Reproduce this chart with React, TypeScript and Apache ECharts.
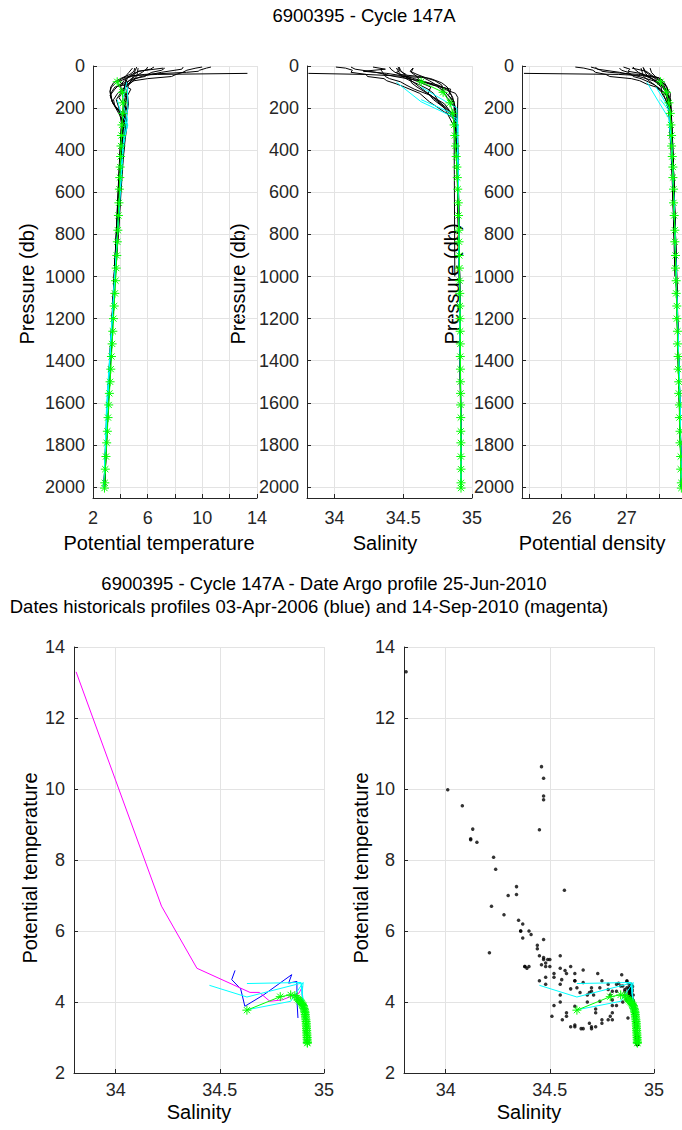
import React, { useEffect, useRef } from "react";
import * as echarts from "echarts";

// ---------- Argo float profile (green stars) ----------
const argoP = [75,125,175,225,280,330,380,430,480,530,585,650,710,780,835,900,960,1020,1080,1140,1200,1260,1320,1380,1440,1500,1555,1610,1670,1735,1790,1855,1915,1980,2005];
const argoT = [3.77,4.15,4.2,4.18,4.12,4.08,4.05,4.02,3.99,3.96,3.93,3.9,3.86,3.82,3.78,3.74,3.7,3.65,3.6,3.55,3.5,3.45,3.4,3.35,3.3,3.25,3.2,3.15,3.1,3.05,3.0,2.95,2.9,2.86,2.84];
const argoS = [34.63,34.79,34.84,34.86,34.87,34.875,34.88,34.885,34.89,34.893,34.896,34.9,34.902,34.904,34.906,34.908,34.909,34.91,34.911,34.912,34.913,34.914,34.915,34.915,34.916,34.916,34.917,34.917,34.918,34.918,34.919,34.919,34.92,34.92,34.92];
const argoD = [27.52,27.61,27.65,27.67,27.68,27.69,27.69,27.70,27.71,27.71,27.72,27.72,27.73,27.74,27.74,27.75,27.75,27.76,27.76,27.77,27.77,27.78,27.78,27.79,27.79,27.80,27.80,27.81,27.81,27.82,27.82,27.83,27.83,27.84,27.84];

// ---------- Historical profiles (black); h1 = 14-Sep-2010 (magenta), h2 = 03-Apr-2006 (blue) ----------
const h1P = [35,40,45,55,70,90,110,130,150,200,300,500,700,1000,1300,1600,2000];
const h1T = [13.3,6.7,4.95,4.27,4.27,4.02,4.06,4.25,4.44,4.3,4.1,3.95,3.8,3.55,3.3,3.05,2.85];
const h1S = [33.81,34.22,34.39,34.645,34.69,34.74,34.80,34.88,34.897,34.895,34.895,34.90,34.905,34.91,34.915,34.918,34.918];
const h1D = [25.42,26.87,27.21,27.49,27.52,27.59,27.63,27.67,27.67,27.68,27.70,27.72,27.74,27.77,27.79,27.82,27.84];

const h2P = [10,30,50,70,90,110,140,170,300,1000];
const h2T = [4.89,4.63,4.37,3.88,4.2,4.77,4.53,4.58,4.06,3.55];
const h2S = [34.573,34.557,34.60,34.62,34.71,34.845,34.83,34.87,34.87,34.875];
const h2D = [27.36,27.38,27.44,27.51,27.55,27.59,27.61,27.63,27.69,27.74];

const h3P = [5,10,20,25,30,40,50,60,80,100,150,200,400,700,1000,1400,1800];
const h3T = [10.63,10.3,9.8,9.7,8.85,5.76,4.6,4.4,4.35,4.3,4.35,4.2,4.0,3.8,3.55,3.25,2.95];
const h3S = [34.46,34.47,34.47,34.47,34.45,34.47,34.62,34.70,34.78,34.82,34.86,34.88,34.895,34.905,34.91,34.915,34.918];
const h3D = [26.45,26.51,26.60,26.62,26.74,27.18,27.43,27.52,27.58,27.62,27.65,27.68,27.71,27.74,27.77,27.80,27.83];

const h4P = [5,10,20,30,40,50,60,70,85,100,130,170,250,500,800,1200,1600,2000];
const h4T = [9.98,9.53,8.87,8.57,8.08,7.74,6.0,5.0,4.6,3.6,3.3,3.4,4.1,3.9,3.7,3.4,3.1,2.85];
const h4S = [34.01,34.08,34.13,34.12,34.23,34.24,34.36,34.38,34.45,34.51,34.62,34.69,34.87,34.895,34.905,34.912,34.917,34.92];
const h4D = [26.21,26.34,26.48,26.52,26.68,26.74,27.07,27.20,27.30,27.45,27.56,27.61,27.68,27.72,27.75,27.78,27.81,27.84];

const h5P = [10,20,30,40,50,60,75,90,110,140,180,250,400,700,1000,1500,2000];
const h5T = [7.25,7.03,6.3,6.0,5.8,5.0,4.5,3.9,3.6,3.25,3.5,4.3,4.05,3.85,3.6,3.2,2.85];
const h5S = [34.34,34.34,34.35,34.36,34.37,34.40,34.48,34.52,34.58,34.70,34.80,34.88,34.89,34.90,34.908,34.915,34.92];
const h5D = [26.89,26.92,27.02,27.07,27.10,27.22,27.33,27.43,27.50,27.63,27.68,27.67,27.70,27.73,27.76,27.80,27.84];

const h6P = [5,15,25,35,45,60,80,100,130,160,200,300,500,800,1100,1500,2000];
const h6T = [6.46,6.2,5.39,5.0,4.7,4.5,4.4,4.3,4.0,3.7,3.9,4.15,3.95,3.75,3.5,3.15,2.8];
const h6S = [34.28,34.37,34.21,34.38,34.48,34.55,34.63,34.70,34.68,34.72,34.80,34.88,34.895,34.905,34.91,34.916,34.92];
const h6D = [26.95,27.05,27.02,27.21,27.31,27.39,27.46,27.53,27.54,27.60,27.65,27.68,27.72,27.745,27.77,27.81,27.84];

const h7P = [10,25,40,55,70,90,120,150,200,300,500,800,1200,1600,2000];
const h7T = [7.15,5.3,5.0,4.9,4.8,4.5,4.2,3.9,4.4,4.2,4.0,3.75,3.4,3.05,2.8];
const h7S = [34.57,34.55,34.60,34.66,34.73,34.78,34.79,34.82,34.88,34.89,34.90,34.905,34.912,34.917,34.92];
const h7D = [27.08,27.30,27.37,27.43,27.50,27.57,27.61,27.66,27.66,27.69,27.72,27.745,27.78,27.82,27.84];

const h8P = [5,20,35,50,65,80,100,120,150,180,220,300,500,900,1300,1700,2000];
const h8T = [5.2,5.1,5.0,4.8,4.2,3.7,3.35,3.25,3.3,3.5,4.0,4.2,4.0,3.7,3.35,3.0,2.8];
const h8S = [34.47,34.48,34.50,34.52,34.55,34.58,34.62,34.66,34.72,34.78,34.85,34.885,34.895,34.905,34.912,34.918,34.92];
const h8D = [27.25,27.27,27.29,27.33,27.42,27.49,27.56,27.60,27.64,27.67,27.68,27.68,27.71,27.75,27.79,27.82,27.84];

const h9P = [10,30,50,70,90,110,130,160,190,230,280,350,450,600,800,1000,1300,1700,2000];
const h9T = [5.3,5.25,5.2,4.95,4.6,4.2,3.8,3.5,3.6,4.3,4.5,4.35,4.2,4.05,3.85,3.6,3.3,3.0,2.82];
const h9S = [34.45,34.47,34.49,34.55,34.62,34.68,34.72,34.75,34.79,34.86,34.89,34.895,34.90,34.90,34.905,34.91,34.914,34.918,34.92];
const h9D = [27.22,27.24,27.26,27.34,27.43,27.52,27.59,27.64,27.67,27.65,27.66,27.68,27.70,27.71,27.73,27.76,27.79,27.82,27.84];

const h10P = [5,15,30,45,60,75,95,120,150,180,220,270,330,400,500,650,800,1000,1250,1500,1800,2000];
const h10T = [6.0,5.9,5.6,5.2,4.8,4.55,4.4,4.3,4.45,4.6,4.5,4.4,4.3,4.2,4.1,3.95,3.8,3.6,3.4,3.2,2.95,2.83];
const h10S = [34.40,34.41,34.44,34.50,34.58,34.66,34.74,34.80,34.84,34.87,34.88,34.885,34.89,34.89,34.895,34.90,34.905,34.91,34.913,34.916,34.918,34.92];
const h10D = [27.10,27.12,27.18,27.27,27.38,27.47,27.55,27.61,27.62,27.63,27.65,27.66,27.67,27.69,27.70,27.72,27.74,27.76,27.78,27.80,27.83,27.84];

const h11P = [10,25,40,60,80,100,120,140,170,200,240,300,400,550,750,1000,1300,1650,2000];
const h11T = [5.05,5.0,4.7,4.0,3.5,3.3,3.25,3.3,3.4,3.7,4.2,4.4,4.25,4.05,3.85,3.6,3.3,3.0,2.8];
const h11S = [34.46,34.48,34.52,34.55,34.56,34.60,34.65,34.70,34.75,34.80,34.86,34.885,34.89,34.895,34.90,34.91,34.914,34.918,34.92];
const h11D = [27.26,27.28,27.34,27.44,27.49,27.55,27.59,27.62,27.65,27.67,27.66,27.66,27.68,27.70,27.73,27.76,27.79,27.82,27.84];

const h12P = [5,15,30,50,70,90,110,140,180,230,300,380,470,600,750,900,1100,1400,1700,2000];
const h12T = [8.6,8.5,7.0,5.5,4.8,4.6,4.5,4.45,4.4,4.35,4.3,4.2,4.1,4.0,3.9,3.75,3.55,3.3,3.05,2.85];
const h12S = [34.12,34.15,34.30,34.44,34.62,34.75,34.82,34.85,34.87,34.88,34.885,34.89,34.89,34.895,34.90,34.905,34.91,34.915,34.918,34.92];
const h12D = [26.52,26.55,26.89,27.19,27.41,27.53,27.60,27.63,27.65,27.66,27.67,27.69,27.70,27.71,27.72,27.745,27.77,27.79,27.82,27.84];

// ---------- Neighbouring float profiles (cyan) ----------
const c1P = [77,170,250,400,600,800,1000,1300,1600,2000];
const c1T = [4.47,4.14,4.53,4.2,4.0,3.8,3.6,3.3,3.0,2.8];
const c1S = [34.45,34.63,34.89,34.895,34.90,34.905,34.91,34.915,34.918,34.92];
const c1D = [27.31,27.49,27.65,27.69,27.72,27.74,27.76,27.79,27.82,27.84];

const c2P = [100,200,300,500,800,1100,1500,2000];
const c2T = [4.52,4.55,4.3,4.05,3.78,3.5,3.15,2.82];
const c2S = [34.63,34.89,34.895,34.90,34.905,34.91,34.916,34.92];
const c2D = [27.45,27.65,27.68,27.71,27.745,27.77,27.81,27.84];

const c3P = [160,220,280,350,600,900,1200,1600,2000];
const c3T = [3.78,4.02,4.55,4.25,3.98,3.7,3.4,3.05,2.8];
const c3S = [34.63,34.84,34.90,34.895,34.90,34.905,34.912,34.917,34.92];
const c3D = [27.52,27.67,27.66,27.69,27.72,27.75,27.78,27.82,27.84];

// ---------- Axis ticks ----------
const pressureTicks = [0,200,400,600,800,1000,1200,1400,1600,1800,2000];
const salTicks = [34, 34.5, 35];
const densTicks = [25.5, 26, 26.5, 27, 27.5];
const densLabels = [26, 27];

const mainTitle = "6900395 - Cycle 147A";
const subTitle1 = "6900395 - Cycle 147A - Date Argo profile 25-Jun-2010";
const subTitle2 = "Dates historicals profiles 03-Apr-2006 (blue) and 14-Sep-2010 (magenta)";

const FONT = "'Liberation Sans', Arial, Helvetica, sans-serif";
const AX = "#262626";
const GRIDC = "#e3e3e3";
const STAR = "path://M5,0L5,10M0,5L10,5M1.6,1.6L8.4,8.4M1.6,8.4L8.4,1.6";

const blackProfiles = [
  { p: h1P, t: h1T, s: h1S, d: h1D },
  { p: h2P, t: h2T, s: h2S, d: h2D },
  { p: h3P, t: h3T, s: h3S, d: h3D },
  { p: h4P, t: h4T, s: h4S, d: h4D },
  { p: h5P, t: h5T, s: h5S, d: h5D },
  { p: h6P, t: h6T, s: h6S, d: h6D },
  { p: h7P, t: h7T, s: h7S, d: h7D },
  { p: h8P, t: h8T, s: h8S, d: h8D },
  { p: h9P, t: h9T, s: h9S, d: h9D },
  { p: h10P, t: h10T, s: h10S, d: h10D },
  { p: h11P, t: h11T, s: h11S, d: h11D },
  { p: h12P, t: h12T, s: h12S, d: h12D },
];
const cyanProfiles = [
  { p: c1P, t: c1T, s: c1S, d: c1D },
  { p: c2P, t: c2T, s: c2S, d: c2D },
  { p: c3P, t: c3T, s: c3S, d: c3D },
];

function pairs(xs: number[], ys: number[]) {
  return xs.map((x, i) => [x, ys[i]]);
}

function lineS(i: number, data: number[][], color: string, z: number, width = 1) {
  return {
    type: "line", xAxisIndex: i, yAxisIndex: i, data, symbol: "none", showSymbol: false,
    lineStyle: { color, width }, z, silent: true, clip: true, animation: false,
  };
}
function starS(i: number, data: number[][]) {
  return {
    type: "line", xAxisIndex: i, yAxisIndex: i, data, symbol: STAR, symbolSize: 9, showSymbol: true,
    itemStyle: { color: "#00ff00", borderColor: "#00ff00", borderWidth: 1 },
    lineStyle: { color: "#00ff00", width: 1 }, z: 5, silent: true, clip: true, animation: false,
  };
}

const plain = (v: number) => String(v);

function lab(margin: number, extra: any = {}) {
  return { color: AX, fontSize: 18, fontFamily: FONT, margin, hideOverlap: false, formatter: plain, ...extra };
}
function tick(extra: any = {}) {
  return { show: true, inside: true, length: 4, lineStyle: { color: AX, width: 1 }, ...extra };
}

function axisBase(gridIndex: number, extra: any) {
  return {
    type: "value", gridIndex,
    axisLine: { show: true, onZero: false, lineStyle: { color: AX, width: 1 } },
    axisTick: tick(),
    axisLabel: lab(9),
    splitLine: { show: true, lineStyle: { color: GRIDC, width: 1 } },
    ...extra,
  };
}

function txt(text: string, x: number, y: number, size: number, rot = 0) {
  return {
    type: "text", x, y, rotation: rot, silent: true,
    style: { text, x: 0, y: 0, fill: "#000", fontSize: size, fontFamily: FONT, textAlign: "center", textVerticalAlign: "middle" },
  };
}

export default function App() {
  const ref = useRef<HTMLDivElement>(null);
  useEffect(() => {
    if (!ref.current) return;
    const chart = echarts.init(ref.current, undefined, { renderer: "svg" });

    const topY = (i: number) => axisBase(i, {
      position: "left", inverse: true, min: 0, max: 2052,
      axisTick: tick({ customValues: pressureTicks }),
      axisLabel: lab(8, { customValues: pressureTicks }),
    });

    const xAxis = [
      axisBase(0, {
        position: "bottom", min: 2, max: 14, interval: 2,
        axisLabel: lab(11, { formatter: (v: number) => (Math.abs((v - 2) % 4) < 1e-6 ? String(v) : "") }),
      }),
      axisBase(1, {
        position: "bottom", min: 33.8, max: 35,
        axisTick: tick({ customValues: salTicks }),
        axisLabel: lab(11, { customValues: salTicks }),
      }),
      axisBase(2, {
        position: "bottom", min: 25.39, max: 27.85,
        axisTick: tick({ customValues: densTicks }),
        axisLabel: lab(11, { customValues: densLabels }),
      }),
      axisBase(3, {
        position: "bottom", min: 33.8, max: 35,
        axisTick: tick({ customValues: salTicks }),
        axisLabel: lab(8, { customValues: salTicks }),
      }),
      axisBase(4, {
        position: "bottom", min: 33.8, max: 35,
        axisTick: tick({ customValues: salTicks }),
        axisLabel: lab(8, { customValues: salTicks }),
      }),
    ];
    const yAxis = [
      topY(0), topY(1), topY(2),
      axisBase(3, { position: "left", min: 2, max: 14, interval: 2, axisLabel: lab(9) }),
      axisBase(4, { position: "left", min: 2, max: 14, interval: 2, axisLabel: lab(9) }),
    ];

    const series: any[] = [];
    blackProfiles.forEach((pr) => {
      series.push(lineS(0, pairs(pr.t, pr.p), "#000000", 2));
      series.push(lineS(1, pairs(pr.s, pr.p), "#000000", 2));
      series.push(lineS(2, pairs(pr.d, pr.p), "#000000", 2));
    });
    cyanProfiles.forEach((pr) => {
      series.push(lineS(0, pairs(pr.t, pr.p), "#00ffff", 3));
      series.push(lineS(1, pairs(pr.s, pr.p), "#00ffff", 3));
      series.push(lineS(2, pairs(pr.d, pr.p), "#00ffff", 3));
    });
    series.push(starS(0, pairs(argoT, argoP)));
    series.push(starS(1, pairs(argoS, argoP)));
    series.push(starS(2, pairs(argoD, argoP)));

    // bottom-left theta-S
    series.push(lineS(3, pairs(h2S, h2T), "#0000ff", 2));
    series.push(lineS(3, pairs(h1S, h1T), "#ff00ff", 2));
    cyanProfiles.forEach((pr) => series.push(lineS(3, pairs(pr.s, pr.t), "#00ffff", 3)));
    series.push(starS(3, pairs(argoS, argoT)));

    // bottom-right theta-S
    const dots: number[][] = [];
    blackProfiles.forEach((pr) => pr.s.forEach((s, k) => dots.push([s, pr.t[k]])));
    series.push({
      type: "scatter", xAxisIndex: 4, yAxisIndex: 4, data: dots, symbol: "circle", symbolSize: 3.5,
      itemStyle: { color: "#000000" }, z: 2, silent: true, animation: false,
    });
    cyanProfiles.forEach((pr) => series.push(lineS(4, pairs(pr.s, pr.t), "#00ffff", 3)));
    series.push(starS(4, pairs(argoS, argoT)));

    const grid = [
      { left: 93, top: 66, width: 164, height: 432 },
      { left: 307, top: 66, width: 165, height: 432 },
      { left: 522, top: 66, width: 160, height: 432 },
      { left: 74, top: 647, width: 250, height: 426 },
      { left: 404, top: 647, width: 250, height: 426 },
    ].map((g) => ({ ...g, containLabel: false, outerBoundsMode: "none" }));

    const graphic = [
      txt(mainTitle, 364, 15, 18.5),
      txt(subTitle1, 324, 583, 18.5),
      txt(subTitle2, 309, 606, 18.5),
      txt("Potential temperature", 159, 543, 20),
      txt("Salinity", 385, 543, 20),
      txt("Potential density", 592, 543, 20),
      txt("Pressure (db)", 27, 284, 20, Math.PI / 2),
      txt("Pressure (db)", 238, 284, 20, Math.PI / 2),
      txt("Pressure (db)", 452, 284, 20, Math.PI / 2),
      txt("Salinity", 199, 1112, 20),
      txt("Salinity", 529, 1112, 20),
      txt("Potential temperature", 30, 868, 20, Math.PI / 2),
      txt("Potential temperature", 361, 868, 20, Math.PI / 2),
    ];

    chart.setOption({
      animation: false,
      backgroundColor: "#ffffff",
      textStyle: { fontFamily: FONT },
      grid, xAxis, yAxis, series, graphic,
    });
    return () => chart.dispose();
  }, []);
  return <div ref={ref} style={{ position: "absolute", left: 0, top: 0, width: 682, height: 1130 }} />;
}
